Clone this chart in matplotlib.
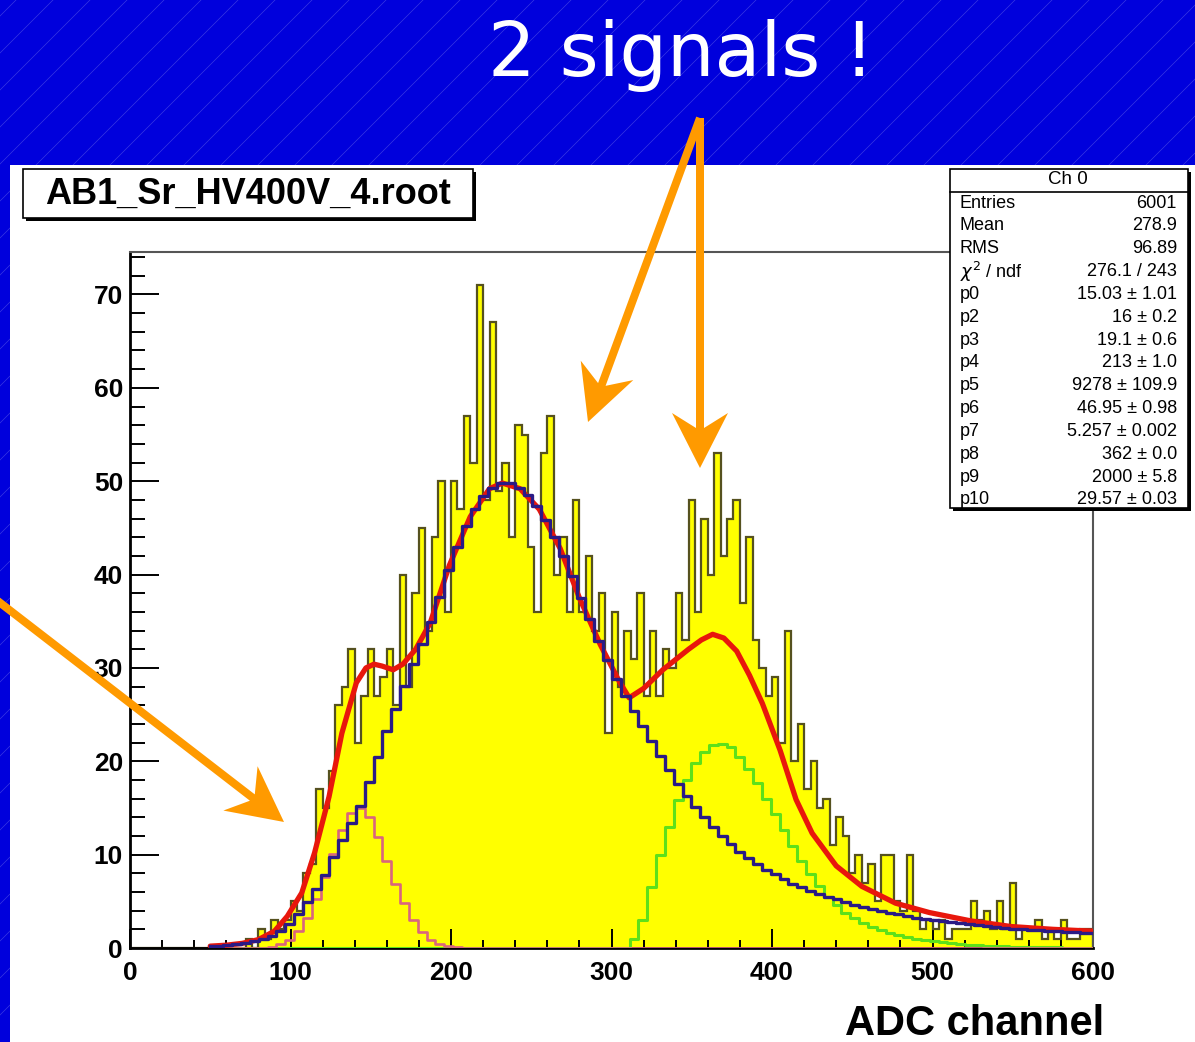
import numpy as np
import matplotlib.pyplot as plt
from matplotlib.patches import Rectangle, Polygon

plt.rcParams['font.family'] = ['Liberation Sans', 'DejaVu Sans']

# ADC spectrum, 4-channel bins starting at channel 0
counts = [0] * 18 + [
    1, 0, 2, 1, 3, 2, 3, 5, 4, 8,
    9, 17, 15, 19, 26, 28, 32, 22, 27, 32,
    27, 29, 32, 26, 40, 28, 38, 45, 34, 44,
    50, 36, 50, 47, 57, 52, 71, 48, 67, 49,
    52, 44, 56, 55, 43, 36, 53, 57, 40, 44,
    36, 48, 36, 42, 34, 38, 23, 36, 28, 34,
    31, 38, 27, 34, 27, 32, 30, 38, 33, 48,
    36, 46, 40, 53, 42, 46, 48, 37, 44, 33,
    30, 27, 29, 22, 34, 20, 24, 17, 20, 15,
    16, 11, 14, 12, 8, 10, 7, 9, 5, 10,
    10, 5, 4, 10, 4, 2, 3, 2, 3, 1,
    2, 2, 2, 5, 3, 4, 2, 5, 2, 7,
    1, 2, 2, 3, 1, 2, 1, 3, 1, 1, 2, 2,
]
bin_width = 4

# fit components sampled at the 101 function points between 50 and 600
fit_x = np.linspace(50, 600, 101)
main_peak = [
    0.2, 0.25, 0.3, 0.4, 0.5, 0.7, 0.95, 1.3, 1.8, 2.6,
    3.6, 4.9, 6.3, 7.8, 9.7, 11.6, 13.4, 15.2, 17.8, 20.5,
    23.2, 25.6, 28.1, 30.4, 32.6, 34.9, 37.6, 40.5, 43.0, 45.2,
    47.0, 48.4, 49.3, 49.8, 49.8, 49.3, 48.5, 47.3, 45.8, 44.0,
    42.0, 39.8, 37.5, 35.2, 32.9, 30.8, 28.8, 27.0, 25.4, 23.8,
    22.2, 20.6, 19.1, 17.6, 16.3, 15.1, 14.0, 13.0, 12.0, 11.1,
    10.3, 9.6, 9.0, 8.4, 7.9, 7.4, 6.9, 6.5, 6.1, 5.8,
    5.5, 5.2, 4.9, 4.6, 4.4, 4.2, 4.0, 3.8, 3.6, 3.4,
    3.25, 3.1, 2.95, 2.85, 2.75, 2.65, 2.55, 2.45, 2.35, 2.25,
    2.15, 2.05, 2.0, 1.95, 1.9, 1.85, 1.8, 1.75, 1.7, 1.65, 1.6,
]
low_peak = [0.0] * 5 + [
    0.02, 0.05, 0.15, 0.4, 0.9, 1.8, 3.2, 5.2, 7.6, 10.1,
    12.6, 14.5, 15.0, 14.0, 11.9, 9.3, 6.9, 4.8, 3.0, 1.7,
    0.9, 0.4, 0.2, 0.08, 0.03,
] + [0.0] * 71
high_peak = [0.0] * 48 + [
    1.0, 3.0, 6.5, 10.0, 13.0, 15.8, 18.0, 19.8, 21.0, 21.7,
    21.9, 21.5, 20.5, 19.2, 17.7, 16.0, 14.3, 12.6, 10.9, 9.3,
    7.9, 6.6, 5.5, 4.6, 3.8, 3.2, 2.7, 2.3, 1.95, 1.65,
    1.4, 1.2, 1.0, 0.85, 0.72, 0.6, 0.5, 0.42, 0.35, 0.3,
    0.25, 0.2, 0.17, 0.14, 0.12, 0.1, 0.08, 0.07, 0.06, 0.05,
    0.04, 0.03, 0.03,
]

# total fit
total_x = [50, 60, 70, 80, 90, 98, 107, 115, 124, 132, 141, 147, 152, 157,
           164, 170, 178, 187, 199, 212, 224, 232, 243, 255, 268, 280, 293,
           305, 311, 320, 332, 348, 356, 363, 370, 378, 386, 394, 405, 415,
           425, 440, 456, 477, 498, 524, 549, 575, 600]
total_y = [0.2, 0.3, 0.5, 0.9, 1.8, 3.4, 5.9, 10.2, 16.2, 23.0, 28.4, 30.0,
           30.4, 30.2, 29.8, 30.4, 32.0, 34.8, 41.0, 46.2, 49.2, 49.8, 49.2,
           47.0, 42.8, 37.5, 32.5, 28.5, 26.8, 27.8, 29.8, 32.0, 33.0, 33.6,
           33.2, 31.8, 29.2, 26.2, 21.2, 15.9, 12.3, 8.8, 6.6, 4.8, 3.8, 2.9,
           2.3, 2.0, 1.8]

stat_names = ['Entries', 'Mean', 'RMS', r'$\chi^2$ / ndf', 'p0', 'p2', 'p3',
              'p4', 'p5', 'p6', 'p7', 'p8', 'p9', 'p10']
stat_values = ['6001', '278.9', '96.89', '276.1 / 243', '15.03 \u00b1 1.01',
               '16 \u00b1 0.2', '19.1 \u00b1 0.6', '213 \u00b1 1.0',
               '9278 \u00b1 109.9', '46.95 \u00b1 0.98', '5.257 \u00b1 0.002',
               '362 \u00b1 0.0', '2000 \u00b1 5.8', '29.57 \u00b1 0.03']

W, H = 1195, 1042
fig = plt.figure(figsize=(W / 100, H / 100), dpi=100)

# slide background: blue with faint diagonal lines, white panel below the header
bg = fig.add_axes([0, 0, 1, 1], zorder=0)
bg.set_xlim(0, W)
bg.set_ylim(H, 0)
bg.axis('off')
bg.add_patch(Rectangle((0, 0), W, H, facecolor='#0000DC', edgecolor='none'))
for x0 in range(-1100, W + 40, 37):
    bg.plot([x0, x0 + H], [H, 0], color='white', lw=0.5, alpha=0.22)
bg.add_patch(Rectangle((10, 165), W - 10, H - 165, facecolor='white',
                       edgecolor='none', zorder=3))

# histogram frame
ax = fig.add_axes([130 / W, 1 - 948 / H, 963 / W, 696 / H], zorder=2)
ax.set_facecolor('none')
edges = np.arange(len(counts) + 1) * bin_width
ax.stairs(counts, edges, fill=True, color='#FFFF00', zorder=1)
ax.stairs(counts, edges, color='#55511f', lw=1.6, zorder=2)
ax.plot(fit_x, high_peak, drawstyle='steps-mid', color='#5EE01A', lw=2.2, zorder=3)
ax.plot(fit_x, low_peak, drawstyle='steps-mid', color='#D9657E', lw=1.9, zorder=3)
ax.plot(total_x, total_y, color='#E8170C', lw=3.8, zorder=4,
        solid_capstyle='round', solid_joinstyle='round')
ax.plot(fit_x, main_peak, drawstyle='steps-mid', color='#2a1a86', lw=2.4, zorder=5)

ax.set_xlim(0, 600)
ax.set_ylim(0, 74.55)
ax.set_xticks(np.arange(0, 601, 100))
ax.set_xticks(np.arange(0, 601, 20), minor=True)
ax.set_yticks(np.arange(0, 71, 10))
ax.set_yticks(np.arange(0, 75, 2), minor=True)
ax.tick_params(axis='both', which='both', direction='in', width=1.4, color='black',
               top=False, right=False)
ax.tick_params(axis='y', which='major', length=21, pad=5, labelsize=19)
ax.tick_params(axis='y', which='minor', length=10.5)
ax.tick_params(axis='x', which='major', length=14, pad=9, labelsize=19)
ax.tick_params(axis='x', which='minor', length=6)
for lab in ax.get_xticklabels() + ax.get_yticklabels():
    lab.set_fontweight('bold')
for side in ('left', 'bottom'):
    ax.spines[side].set_linewidth(2)
    ax.spines[side].set_color('black')
for side in ('top', 'right'):
    ax.spines[side].set_linewidth(1.5)
    ax.spines[side].set_color('#555555')

# overlay: boxes, arrows and captions in pixel coordinates
ov = fig.add_axes([0, 0, 1, 1], zorder=10)
ov.set_xlim(0, W)
ov.set_ylim(H, 0)
ov.axis('off')
ov.patch.set_alpha(0)

# title box with shadow
ov.add_patch(Rectangle((26, 172), 450, 49, facecolor='black', edgecolor='none'))
ov.add_patch(Rectangle((23, 169), 450, 49, facecolor='white', edgecolor='black', lw=1.2))
ov.text(248, 194, 'AB1_Sr_HV400V_4.root', fontsize=26, fontweight='bold',
        ha='center', va='center')

# statistics box with shadow
ov.add_patch(Rectangle((953, 172), 238, 339, facecolor='black', edgecolor='none'))
ov.add_patch(Rectangle((950, 169), 238, 339, facecolor='white', edgecolor='black', lw=1.2))
ov.plot([950, 1188], [192, 192], color='black', lw=1.2)
ov.text(1068, 180, 'Ch 0', fontsize=13.5, ha='center', va='center')
for y, name, val in zip(np.linspace(203, 500, 14), stat_names, stat_values):
    ov.text(960, y, name, fontsize=13, ha='left', va='center')
    ov.text(1177, y, val, fontsize=13, ha='right', va='center')


def arrow_shape(start, tip, shaft=8, head_len=55, head_half=28, notch=15):
    p0 = np.array(start, float)
    p1 = np.array(tip, float)
    u = (p1 - p0) / np.linalg.norm(p1 - p0)
    n = np.array([-u[1], u[0]])
    neck = p1 - u * (head_len - notch)
    base = p1 - u * head_len
    pts = [p0 + n * shaft / 2, neck + n * shaft / 2, base + n * head_half, p1,
           base - n * head_half, neck - n * shaft / 2, p0 - n * shaft / 2]
    return Polygon(pts, closed=True, facecolor='#FF9A00', edgecolor='none')


ov.add_patch(arrow_shape((-10, 595), (284, 822)))
ov.add_patch(arrow_shape((700, 118), (588, 422)))
ov.add_patch(arrow_shape((700, 118), (700, 468)))

ov.text(681, 55, '2 signals !', fontsize=54, color='white', ha='center', va='center',
        family='DejaVu Sans')
ov.text(1104, 1024, 'ADC channel', fontsize=30, fontweight='bold', ha='right',
        va='center')

fig.savefig('out.png', dpi=100)
